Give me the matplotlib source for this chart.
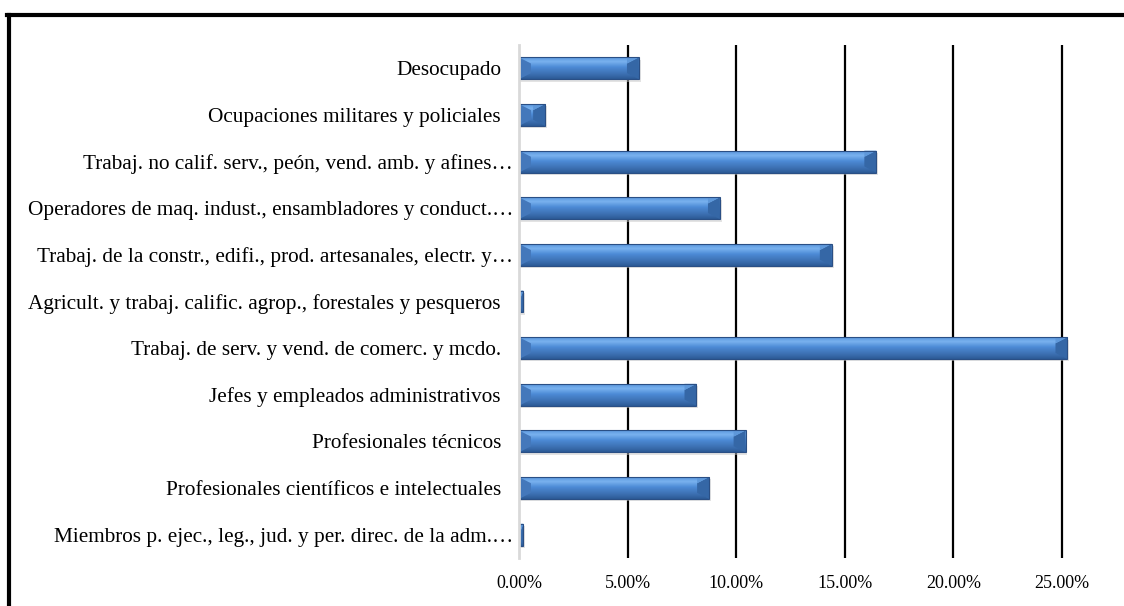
import matplotlib
matplotlib.use('Agg')
import matplotlib.pyplot as plt
import matplotlib.transforms as mtransforms
from matplotlib.lines import Line2D
from matplotlib.patches import Polygon
import numpy as np

# categorias de abajo hacia arriba
categorias = [
    'Miembros p. ejec., leg., jud. y per. direc. de la adm.\u2026',
    'Profesionales científicos e intelectuales',
    'Profesionales técnicos',
    'Jefes y empleados administrativos',
    'Trabaj. de serv. y vend. de comerc. y mcdo.',
    'Agricult. y trabaj. calific. agrop., forestales y pesqueros',
    'Trabaj. de la constr., edifi., prod. artesanales, electr. y\u2026',
    'Operadores de maq. indust., ensambladores y conduct.\u2026',
    'Trabaj. no calif. serv., peón, vend. amb. y afines\u2026',
    'Ocupaciones militares y policiales',
    'Desocupado',
]
porcentajes = [0.20, 8.75, 10.43, 8.17, 25.25, 0.20, 14.40, 9.25, 16.45, 1.20, 5.52]
ticks = [0, 5, 10, 15, 20, 25]
tick_labels = ['0.00%', '5.00%', '10.00%', '15.00%', '20.00%', '25.00%']

W, H = 1124, 606
fig = plt.figure(figsize=(W / 100, H / 100), dpi=100)
plt.rcParams['font.family'] = ['Liberation Serif', 'DejaVu Serif']

# zone de tracé en pixels
x0, x1 = 519, 1124
y_top, y_bot = 45, 558
ax = fig.add_axes([x0 / W, 1 - y_bot / H, (x1 - x0) / W, (y_bot - y_top) / H])

y = np.arange(len(categorias))
h = 0.47
bars = ax.barh(y, porcentajes, height=h, color='#4a7fc4', edgecolor='none', zorder=3)

ax.set_xlim(0, (x1 - x0) / 108.6 * 5)
ax.set_ylim(-0.5, len(categorias) - 0.5)

# degradé vertical pour imiter le biseau Excel
grad = np.linspace(0, 1, 64).reshape(-1, 1)
cmap = matplotlib.colors.LinearSegmentedColormap.from_list(
    'bev', [(0, '#2c5a96'), (0.18, '#3a6cad'), (0.55, '#4d8bd6'), (0.8, '#79b2ef'), (1.0, '#5a96dc')])
for b in bars:
    bx, by, bw, bh = b.get_x(), b.get_y(), b.get_width(), b.get_height()
    # ombre
    ax.add_patch(plt.Rectangle((bx, by - 0.05), bw + 0.08, bh, color='#c8c8c8', alpha=0.5, zorder=2, lw=0))
    im = ax.imshow(grad, extent=(bx, bx + bw, by, by + bh), aspect='auto', cmap=cmap,
                   origin='lower', zorder=4)
    im.set_clip_path(b)
    # triangles des extrémités
    e = min(0.55, bw / 2)
    ax.add_patch(Polygon([(bx + bw, by), (bx + bw, by + bh), (bx + bw - e, by + bh * 0.72), (bx + bw - e, by + bh * 0.28)],
                         closed=True, color='#3567a6', lw=0, zorder=5))
    ax.add_patch(Polygon([(bx + bw, by + bh), (bx + bw - e, by + bh * 0.72), (bx + bw - e, by + bh)],
                         closed=True, color='#5e98da', lw=0, zorder=5))
    ax.add_patch(Polygon([(bx, by + bh), (bx + e, by + bh * 0.72), (bx + e, by + bh * 0.28), (bx, by)],
                         closed=True, color='#4478bb', lw=0, zorder=5))
    ax.add_patch(plt.Rectangle((bx, by), bw, bh, fill=False, ec='#2a4f85', lw=0.8, zorder=6))

for t in ticks[1:]:
    ax.axvline(t, color='black', lw=1.6, zorder=1)

ax.set_xticks(ticks)
ax.set_xticklabels(tick_labels, fontsize=13)
ax.set_yticks(y)
ax.set_yticklabels(categorias, fontsize=15.3)
ax.tick_params(length=0, axis='y', pad=13)
ax.tick_params(length=0, axis='x', pad=12)

# les étiquettes tronquées débordent un peu vers l'axe, comme dans Excel
for lab in ax.get_yticklabels():
    if lab.get_text().endswith('\u2026'):
        lab.set_transform(lab.get_transform() + mtransforms.ScaledTranslation(12 / 100, 0, fig.dpi_scale_trans))

for s in ['top', 'right', 'bottom']:
    ax.spines[s].set_visible(False)
ax.spines['left'].set_color('#d9d9d9')
ax.spines['left'].set_linewidth(2)
ax.spines['left'].set_zorder(7)

# cadre du graphique (coupé à droite et en bas)
fig.add_artist(Line2D([8.5 / W, 8.5 / W], [0, 1 - 15 / H], color='black', lw=3, transform=fig.transFigure))
fig.add_artist(Line2D([7 / W, 1], [1 - 15 / H, 1 - 15 / H], color='black', lw=3, transform=fig.transFigure))

plt.savefig('out.png', dpi=100)
